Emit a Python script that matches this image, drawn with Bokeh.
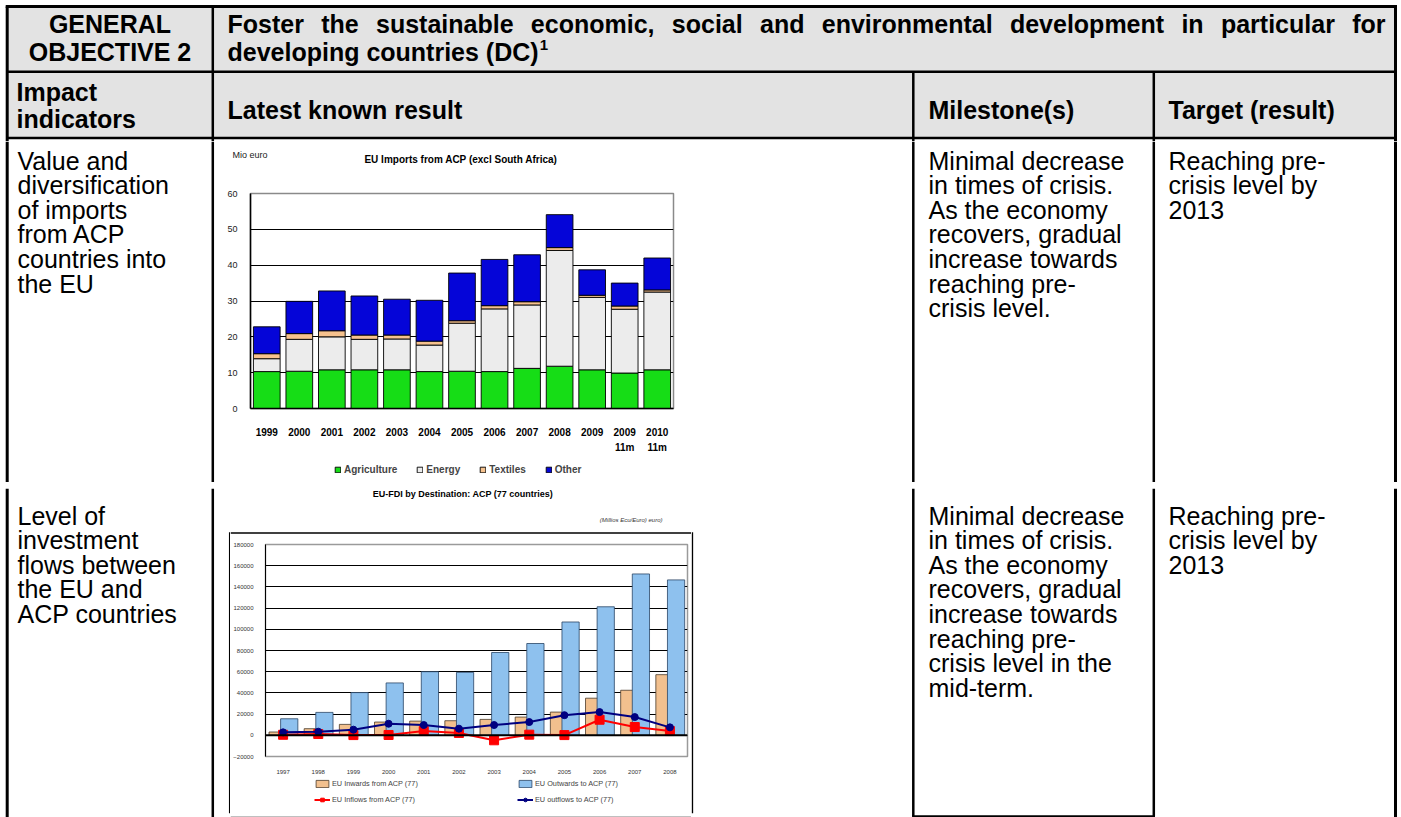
from bokeh.plotting import figure
from bokeh.layouts import column, row
from bokeh.models import (Range1d, FactorRange, FixedTicker, Legend, LegendItem,
                          Span, ColumnDataSource, BasicTickFormatter)
from bokeh.transform import dodge
from bokeh.core.properties import value
from bokeh.embed import file_html
from bokeh.resources import INLINE

FONT = "Liberation Sans"

# ---------------- Chart 1 data: EU imports from ACP (Mio euro) ----------------
imp_cats = ["1999", "2000", "2001", "2002", "2003", "2004", "2005", "2006", "2007",
            "2008", "2009", "2009\n11m", "2010\n11m"]
agriculture = [10.3, 10.4, 10.8, 10.8, 10.8, 10.3, 10.4, 10.3, 11.2, 11.8, 10.8, 9.9, 10.8]
energy = [3.6, 8.9, 9.2, 8.5, 8.6, 7.4, 13.4, 17.5, 17.7, 32.3, 20.2, 17.8, 21.7]
textiles = [1.4, 1.6, 1.7, 1.2, 1.1, 1.1, 0.7, 0.9, 0.9, 0.8, 0.6, 0.9, 0.6]
other = [7.5, 9.0, 11.1, 10.9, 10.0, 11.4, 13.3, 12.9, 13.1, 9.2, 7.1, 6.4, 8.9]
imp_series = ["Agriculture", "Energy", "Textiles", "Other"]
imp_colors = ["#16dd16", "#ececec", "#f6c28e", "#0505d8"]
imp_ticks = [0, 10, 20, 30, 40, 50, 60]
imp_title = "EU Imports from ACP (excl  South Africa)"
imp_unit = "Mio  euro"

# ---------------- Chart 2 data: EU FDI by destination ACP ----------------
fdi_years = ["1997", "1998", "1999", "2000", "2001", "2002", "2003", "2004", "2005",
             "2006", "2007", "2008"]
inwards = [3100, 6250, 10300, 12500, 13400, 13750, 15000, 17200, 21900, 35000, 42500, 57200]
outwards = [15600, 21600, 40300, 49400, 60000, 59400, 78100, 86600, 106900, 121250, 152200, 146600]
inflows = [500, 1200, 200, 300, 4000, 2200, -4700, 600, 200, 14700, 7800, 4000]
outflows = [2800, 3400, 5300, 10900, 9700, 6250, 9700, 12500, 19000, 21900, 17200, 7500]
fdi_ticks = [-20000, 0, 20000, 40000, 60000, 80000, 100000, 120000, 140000, 160000, 180000]
fdi_labels = ["EU Inwards from ACP (77)", "EU Outwards to ACP (77)",
              "EU Inflows from ACP (77)", "EU outflows to ACP (77)"]
fdi_title = "EU-FDI by Destination: ACP (77 countries)"
fdi_unit = "(Millios Ecu/Euro) euro)"

# ---------------- Table texts ----------------
hdr_col1 = ["GENERAL", "OBJECTIVE 2"]
hdr_line1 = "Foster the sustainable economic, social and environmental development in particular for"
hdr_line2 = "developing countries (DC)"
hdr_sup = "1"
hdr_row2 = ["Latest known result", "Milestone(s)", "Target (result)"]
hdr_impact = ["Impact", "indicators"]
r1_col1 = ["Value and", "diversification", "of imports", "from ACP", "countries into", "the EU"]
r1_mile = ["Minimal decrease", "in times of crisis.", "As the economy", "recovers, gradual",
           "increase towards", "reaching pre-", "crisis level."]
r1_target = ["Reaching pre-", "crisis level by", "2013"]
r2_col1 = ["Level of", "investment", "flows between", "the EU and", "ACP countries"]
r2_mile = ["Minimal decrease", "in times of crisis.", "As the economy", "recovers, gradual",
           "increase towards", "reaching pre-", "crisis level in the", "mid-term."]
r2_target = ["Reaching pre-", "crisis level by", "2013"]

# ---------------- geometry of the table (page pixels) ----------------
XL, XC1, XM, XT, XR = 6.7, 212.3, 912.8, 1153.3, 1395.0
YT, Y1, Y2, Y3, YB = 6.0, 71.3, 137.5, 485.0, 816.0
HDR_FS = 25
BODY_FS = 25
PITCH = 24.6
GRAY = "#e3e3e3"

ARIAL_BOLD = {' ': 278, ',': 278, '(': 333, ')': 333, 'a': 556, 'b': 611, 'c': 556, 'd': 611,
              'e': 556, 'f': 333, 'g': 611, 'h': 611, 'i': 278, 'l': 278, 'm': 889, 'n': 611,
              'o': 611, 'p': 611, 'r': 389, 's': 556, 't': 333, 'u': 611, 'v': 556, 'F': 611,
              'D': 722, 'C': 722}


def bw(s, fs):
    return sum(ARIAL_BOLD.get(ch, 556) for ch in s) * fs / 1000.0


def canvas(x0, x1, y0, y1):
    p = figure(width=int(round(x1 - x0)), height=int(round(y1 - y0)), x_range=Range1d(x0, x1),
               y_range=Range1d(y1, y0), x_axis_location=None, y_axis_location=None,
               toolbar_location=None, output_backend="svg", min_border=0,
               outline_line_color=None, background_fill_color="white",
               border_fill_color="white", frame_align=False)
    p.grid.visible = False
    return p


def strip(width, height, factors, yr):
    # legend strip: own scales; its series renderers are hidden, only the legend is shown
    p = figure(width=width, height=height, x_range=FactorRange(*factors), y_range=yr,
               x_axis_location=None, y_axis_location=None, toolbar_location=None,
               output_backend="svg", min_border=0, outline_line_color=None,
               background_fill_color="white", border_fill_color="white", frame_align=False)
    p.grid.visible = False
    return p


def seg(p, x0, y0, x1, y1, w):
    p.segment(x0=[x0], y0=[y0], x1=[x1], y1=[y1], line_width=w, line_color="black")


def txt(p, xs, ys, texts, fs, bold=False, align="left", color="black", italic=False):
    style = "bold" if bold else ("italic" if italic else "normal")
    p.text(x=xs, y=ys, text=texts, text_font=value(FONT), text_font_size=f"{fs}px",
           text_font_style=style, text_baseline="middle", text_align=align,
           text_color=color)


def lines_text(p, x, y0, lines, fs=BODY_FS, bold=False):
    txt(p, [x] * len(lines), [y0 + i * PITCH for i in range(len(lines))], lines, fs, bold)


# ---------------- header ----------------
H0, H1 = 0, 141
hdr = canvas(0, 1401, H0, H1)
hdr.quad(left=[XL, XL], right=[XR, XR], top=[YT, Y1], bottom=[Y1, Y2], fill_color=GRAY,
         line_color=None)
seg(hdr, XL - 1.5, YT, XR + 1.5, YT, 3)
seg(hdr, XL, Y1, XR, Y1, 2.5)
seg(hdr, XL, Y2, XR, Y2, 2.5)
seg(hdr, XL, YT, XL, H1, 3)
seg(hdr, XR, YT, XR, H1, 3)
seg(hdr, XC1, YT, XC1, H1, 2.5)
seg(hdr, XM, Y1, XM, H1, 2.5)
seg(hdr, XT, Y1, XT, H1, 2.5)
txt(hdr, [(XL + XC1) / 2] * 2, [23, 51], hdr_col1, HDR_FS, True, "center")
words = hdr_line1.split(" ")
left_x, right_x = 227.0, 1385.0
total = sum(bw(w, HDR_FS) for w in words)
gap = (right_x - left_x - total) / (len(words) - 1)
xs, cur = [], left_x
for w in words:
    xs.append(cur)
    cur += bw(w, HDR_FS) + gap
txt(hdr, xs, [23] * len(words), words, HDR_FS, True)
txt(hdr, [227], [51], [hdr_line2], HDR_FS, True)
txt(hdr, [227 + bw(hdr_line2, HDR_FS) + 1], [44], [hdr_sup], 15, True)
txt(hdr, [16, 16], [91, 118], hdr_impact, HDR_FS, True)
txt(hdr, [227, 928, 1168], [109] * 3, hdr_row2, HDR_FS, True)

# ---------------- row 1 ----------------
B0, B1 = 141, 482
leftB = canvas(0, 215, B0, B1)
seg(leftB, XL, B0, XL, B1, 3)
seg(leftB, XC1, B0, XC1, B1, 2.5)
lines_text(leftB, 17, 160, r1_col1)

rightB = canvas(695, 1401, B0, B1)
seg(rightB, XM, B0, XM, B1, 2.5)
seg(rightB, XT, B0, XT, B1, 2.5)
seg(rightB, XR, B0, XR, B1, 3)
lines_text(rightB, 928, 160, r1_mile)
lines_text(rightB, 1168, 160, r1_target)

# chart 1 : title strip / plot / legend strip
T1, P1B = 185, 455
t1 = canvas(215, 695, B0, T1)
txt(t1, [462], [159], [imp_title], 10, True, "center")
txt(t1, [232], [154], [imp_unit], 9, False, "left", "#222222")

src1 = ColumnDataSource(dict(cat=imp_cats, Agriculture=agriculture, Energy=energy,
                             Textiles=textiles, Other=other))
p1 = figure(width=480, height=P1B - T1, x_range=FactorRange(*imp_cats), y_range=Range1d(0, 60),
            toolbar_location=None, output_backend="svg", min_border_left=35,
            min_border_right=22, min_border_top=8, min_border_bottom=42,
            background_fill_color="white", border_fill_color="white",
            outline_line_color="#8a8a8a", outline_line_width=1.5, frame_align=False)
p1.vbar_stack(imp_series, x="cat", width=0.82, source=src1, fill_color=imp_colors,
              line_color="black", line_width=0.9)
p1.xgrid.visible = False
p1.ygrid.ticker = FixedTicker(ticks=imp_ticks)
p1.ygrid.grid_line_color = "black"
p1.ygrid.grid_line_width = 1
p1.yaxis.ticker = FixedTicker(ticks=imp_ticks)
for ax in (p1.xaxis, p1.yaxis):
    ax.axis_line_color = "black"
    ax.axis_line_width = 1.5
    ax.major_tick_line_color = None
    ax.minor_tick_line_color = None
    ax.major_label_text_font = FONT
p1.yaxis.major_label_text_font_size = "9px"
p1.yaxis.major_label_text_color = "#222222"
p1.yaxis.major_label_standoff = 7
p1.xaxis.major_label_text_font_size = "10px"
p1.xaxis.major_label_text_font_style = "bold"
p1.xaxis.major_label_text_color = "black"
p1.xaxis.major_label_standoff = 12
p1.xaxis.major_label_text_line_height = 1.4

l1 = strip(480, B1 - P1B, imp_cats, Range1d(0, 60))
sw1 = l1.vbar_stack(imp_series, x="cat", width=0.82, source=src1, fill_color=imp_colors,
                    line_color="black", line_width=0.9)
for r in sw1:
    r.visible = False
leg1 = Legend(items=[LegendItem(label=n, renderers=[r]) for n, r in zip(imp_series, sw1)],
              location=(119, 7), orientation="horizontal", padding=0, margin=0,
              spacing=19, glyph_width=7, glyph_height=7, label_standoff=3,
              label_height=10, label_text_font=FONT, label_text_font_size="10px",
              label_text_font_style="bold", background_fill_alpha=0,
              border_line_color=None, inactive_fill_alpha=0)
l1.add_layout(leg1)

# ---------------- separator ----------------
S0, S1 = 482, 488
sep = canvas(0, 1401, S0, S1)
seg(sep, XL, Y3, XR, Y3, 2.5)
for xx, w in ((XL, 3), (XC1, 2.5), (XM, 2.5), (XT, 2.5), (XR, 3)):
    seg(sep, xx, S0, xx, S1, w)

# ---------------- row 2 ----------------
C0, C1 = 488, 817
BX0, BX1, BY0, BY1 = 229.2, 691.9, 532.5, 812.0   # frame box around chart 2
CL, CR = 230, 691
leftC = canvas(0, CL, C0, C1)
seg(leftC, XL, C0, XL, C1, 3)
seg(leftC, XC1, C0, XC1, C1, 2.5)
seg(leftC, BX0, BY0 - 0.75, BX0, BY1 + 0.75, 1.5)
lines_text(leftC, 17, 515, r2_col1)

rightC = canvas(CR, 1401, C0, C1)
seg(rightC, BX1, BY0 - 0.75, BX1, BY1 + 0.75, 1.5)
seg(rightC, XM, C0, XM, YB, 2.5)
seg(rightC, XT, C0, XT, YB, 2.5)
seg(rightC, XM - 1.2, YB, XT + 1.2, YB, 2.5)
seg(rightC, XR, C0, XR, C1, 3)
lines_text(rightC, 928, 515, r2_mile)
lines_text(rightC, 1168, 515, r2_target)

T2, P2B, L2B = 540, 776, 810
t2 = canvas(CL, CR, C0, T2)
seg(t2, CL, BY0, CR, BY0, 1.5)
txt(t2, [462.5], [493], [fdi_title], 9, True, "center")
txt(t2, [662], [519], [fdi_unit], 6, False, "right", "#333333", italic=True)

src2 = ColumnDataSource(dict(year=fdi_years, inwards=inwards, outwards=outwards,
                             inflows=inflows, outflows=outflows))
p2 = figure(width=CR - CL, height=P2B - T2, x_range=FactorRange(*fdi_years),
            y_range=Range1d(-20000, 180000), toolbar_location=None, output_backend="svg",
            min_border_left=33, min_border_right=4, min_border_top=4, min_border_bottom=19,
            background_fill_color="white", border_fill_color="white",
            outline_line_color="#9a9a9a", outline_line_width=1.5, frame_align=False)
VB_IN = dict(width=0.38, fill_color="#f2c08e", line_color="#4a3a2a", line_width=0.8)
VB_OUT = dict(width=0.49, fill_color="#8ec1ee", line_color="#2a4566", line_width=0.8)
LN_IN = dict(line_color="#ff0000", line_width=2)
SC_IN = dict(marker="square", size=9, fill_color="#ff0000", line_color="#ff0000")
LN_OUT = dict(line_color="#000080", line_width=2)
SC_OUT = dict(marker="circle", size=7, fill_color="#000080", line_color="#000080")

p2.vbar(x=dodge("year", -0.21, range=p2.x_range), top="inwards", source=src2, **VB_IN)
p2.vbar(x=dodge("year", 0.175, range=p2.x_range), top="outwards", source=src2, **VB_OUT)
p2.add_layout(Span(location=0, dimension="width", line_color="black", line_width=2))
p2.line(x="year", y="inflows", source=src2, **LN_IN)
p2.scatter(x="year", y="inflows", source=src2, **SC_IN)
p2.line(x="year", y="outflows", source=src2, **LN_OUT)
p2.scatter(x="year", y="outflows", source=src2, **SC_OUT)
p2.xgrid.visible = False
p2.ygrid.ticker = FixedTicker(ticks=fdi_ticks)
p2.ygrid.grid_line_color = "black"
p2.ygrid.grid_line_width = 1
p2.yaxis.ticker = FixedTicker(ticks=fdi_ticks)
p2.yaxis.formatter = BasicTickFormatter(use_scientific=False)
for ax in (p2.xaxis, p2.yaxis):
    ax.major_tick_line_color = None
    ax.minor_tick_line_color = None
    ax.major_label_text_font = FONT
    ax.major_label_text_font_size = "6px"
    ax.major_label_text_color = "#333333"
p2.yaxis.axis_line_color = "black"
p2.xaxis.axis_line_color = None
p2.yaxis.major_label_standoff = 6
p2.xaxis.major_label_standoff = 7

l2 = strip(CR - CL, L2B - P2B, fdi_years, Range1d(-20000, 180000))
sw_in = l2.vbar(x="year", top="inwards", source=src2, **VB_IN)
sw_out = l2.vbar(x="year", top="outwards", source=src2, **VB_OUT)
sw_il = l2.line(x="year", y="inflows", source=src2, **LN_IN)
sw_is = l2.scatter(x="year", y="inflows", source=src2, **SC_IN)
sw_ol = l2.line(x="year", y="outflows", source=src2, **LN_OUT)
sw_os = l2.scatter(x="year", y="outflows", source=src2, **SC_OUT)
for r in (sw_in, sw_out, sw_il, sw_is, sw_ol, sw_os):
    r.visible = False
leg2 = Legend(items=[LegendItem(label=fdi_labels[0], renderers=[sw_in]),
                     LegendItem(label=fdi_labels[1], renderers=[sw_out]),
                     LegendItem(label=fdi_labels[2], renderers=[sw_il, sw_is]),
                     LegendItem(label=fdi_labels[3], renderers=[sw_ol, sw_os])],
              location=(84, 6), orientation="horizontal", ncols=2, padding=0, margin=0,
              spacing=7, glyph_width=16, glyph_height=9, label_standoff=2,
              label_height=9, label_width=178, label_text_font=FONT,
              label_text_font_size="7.3px", background_fill_alpha=0,
              border_line_color=None, inactive_fill_alpha=0)
l2.add_layout(leg2)

b2 = canvas(CL, CR, L2B, C1)
seg(b2, CL, BY1, CR, BY1, 1.5)

layout = column(hdr,
                row(leftB, column(t1, p1, l1), rightB),
                sep,
                row(leftC, column(t2, p2, l2, b2), rightC))

open("out.html", "w").write(file_html(layout, INLINE))
